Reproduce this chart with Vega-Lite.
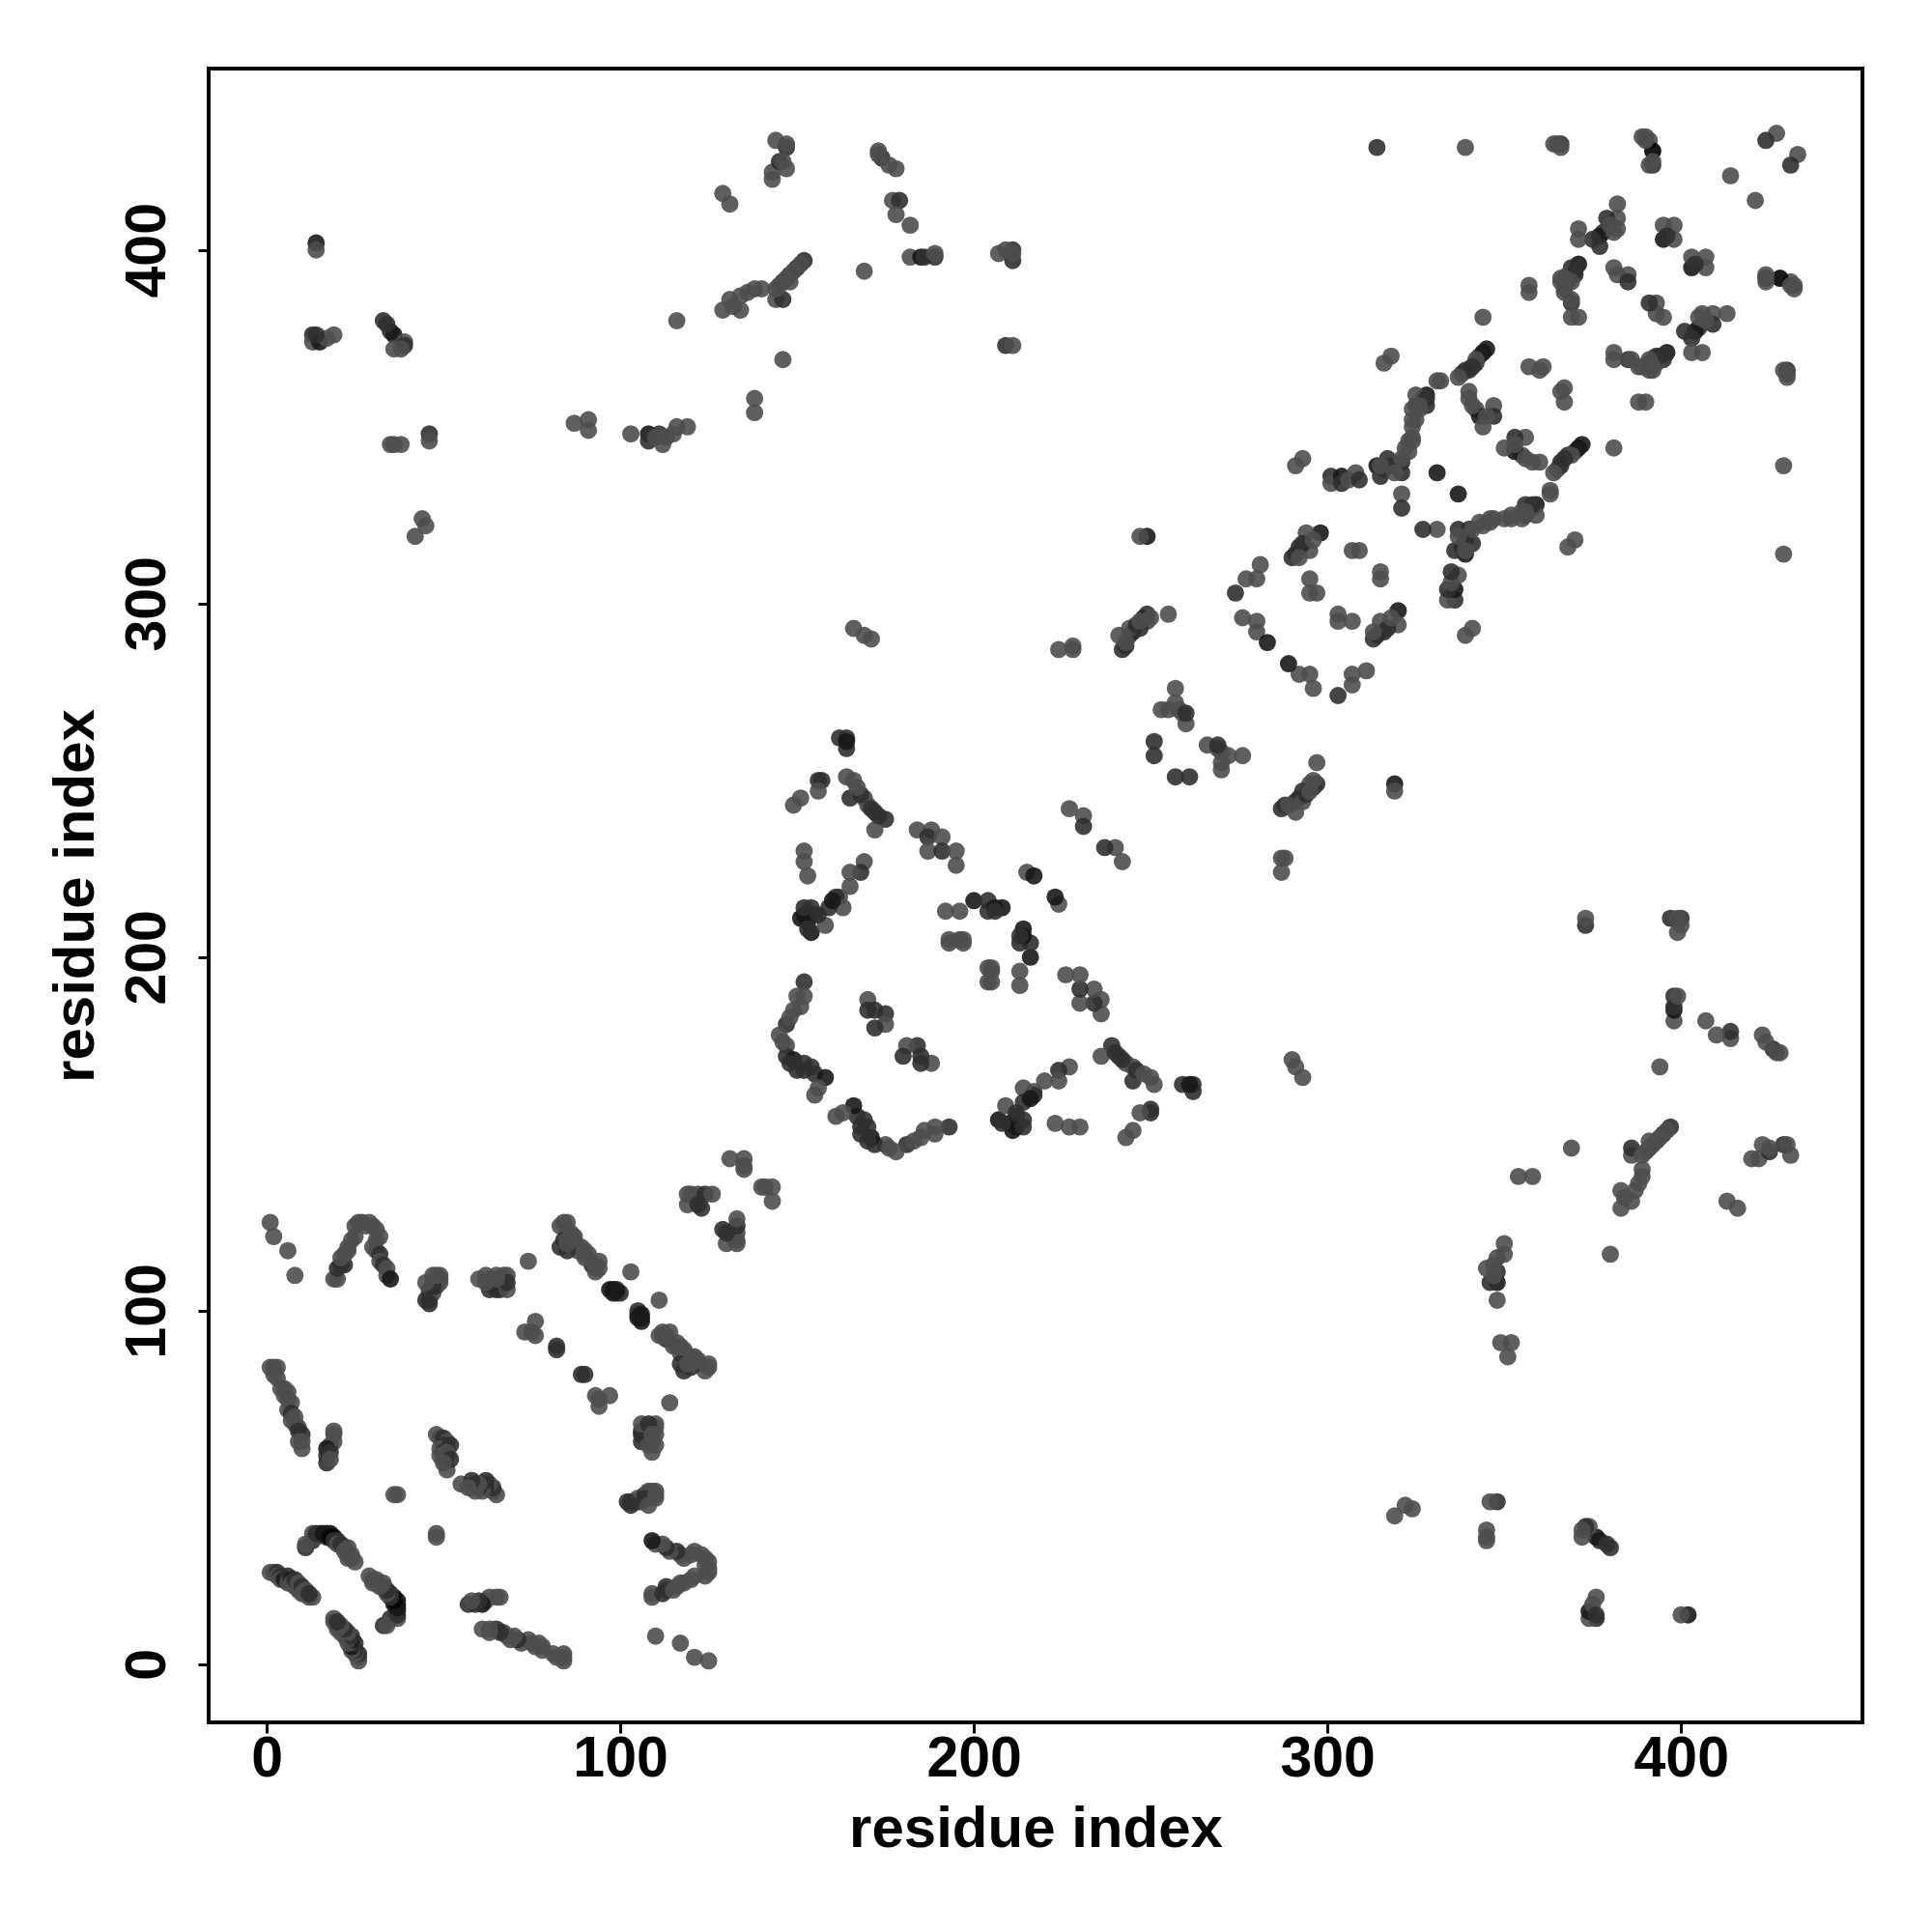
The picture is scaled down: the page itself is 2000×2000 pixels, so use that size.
{"$schema":"https://vega.github.io/schema/vega-lite/v6.json","width":1712,"height":1712,"autosize":{"type":"none"},"padding":{"left":216,"top":71,"right":72,"bottom":217},"background":"white","config":{"view":{"stroke":"black","strokeWidth":4},"font":"Liberation Sans"},"data":{"values":[
{"x":1,"y":26,"v":0.33},{"x":26,"y":1,"v":0.33},{"x":2,"y":26,"v":0.33},{"x":26,"y":2,"v":0.33},{"x":3,"y":26,"v":0.2},{"x":26,"y":3,"v":0.2},{"x":3,"y":25,"v":0.33},{"x":25,"y":3,"v":0.33},{"x":4,"y":25,"v":0.2},{"x":25,"y":4,"v":0.2},{"x":4,"y":24,"v":0.33},{"x":24,"y":4,"v":0.33},{"x":5,"y":24,"v":0.08},{"x":24,"y":5,"v":0.08},{"x":6,"y":25,"v":0.2},{"x":25,"y":6,"v":0.2},{"x":6,"y":23,"v":0.33},{"x":23,"y":6,"v":0.33},{"x":7,"y":24,"v":0.08},{"x":24,"y":7,"v":0.08},{"x":7,"y":23,"v":0.33},{"x":23,"y":7,"v":0.33},{"x":8,"y":22,"v":0.33},{"x":22,"y":8,"v":0.33},{"x":8,"y":24,"v":0.2},{"x":24,"y":8,"v":0.2},{"x":9,"y":23,"v":0.33},{"x":23,"y":9,"v":0.33},{"x":9,"y":21,"v":0.33},{"x":21,"y":9,"v":0.33},{"x":10,"y":22,"v":0.2},{"x":22,"y":10,"v":0.2},{"x":10,"y":20,"v":0.33},{"x":20,"y":10,"v":0.33},{"x":11,"y":21,"v":0.33},{"x":21,"y":11,"v":0.33},{"x":11,"y":20,"v":0.33},{"x":20,"y":11,"v":0.33},{"x":12,"y":19,"v":0.33},{"x":19,"y":12,"v":0.33},{"x":13,"y":19,"v":0.33},{"x":19,"y":13,"v":0.33},{"x":12,"y":20,"v":0.2},{"x":20,"y":12,"v":0.2},
{"x":11,"y":33,"v":0.2},{"x":33,"y":11,"v":0.2},{"x":13,"y":35,"v":0.2},{"x":35,"y":13,"v":0.2},{"x":13,"y":37,"v":0.33},{"x":37,"y":13,"v":0.33},{"x":11,"y":34,"v":0.33},{"x":34,"y":11,"v":0.33},{"x":14,"y":37,"v":0.2},{"x":37,"y":14,"v":0.2},{"x":15,"y":37,"v":0.2},{"x":37,"y":15,"v":0.2},{"x":16,"y":37,"v":0.08},{"x":37,"y":16,"v":0.08},{"x":17,"y":37,"v":0.08},{"x":37,"y":17,"v":0.08},{"x":18,"y":37,"v":0.08},{"x":37,"y":18,"v":0.08},{"x":17,"y":36,"v":0.08},{"x":36,"y":17,"v":0.08},{"x":18,"y":36,"v":0.02},{"x":36,"y":18,"v":0.02},{"x":19,"y":36,"v":0.02},{"x":36,"y":19,"v":0.02},{"x":19,"y":35,"v":0.2},{"x":35,"y":19,"v":0.2},{"x":20,"y":35,"v":0.2},{"x":35,"y":20,"v":0.2},{"x":20,"y":34,"v":0.33},{"x":34,"y":20,"v":0.33},{"x":21,"y":34,"v":0.2},{"x":34,"y":21,"v":0.2},{"x":22,"y":33,"v":0.2},{"x":33,"y":22,"v":0.2},{"x":23,"y":33,"v":0.33},{"x":33,"y":23,"v":0.33},{"x":22,"y":32,"v":0.33},{"x":32,"y":22,"v":0.33},{"x":23,"y":31,"v":0.33},{"x":31,"y":23,"v":0.33},{"x":24,"y":31,"v":0.33},{"x":31,"y":24,"v":0.33},{"x":24,"y":30,"v":0.33},{"x":30,"y":24,"v":0.33},{"x":25,"y":29,"v":0.33},{"x":29,"y":25,"v":0.33},{"x":23,"y":30,"v":0.33},{"x":30,"y":23,"v":0.33},
{"x":1,"y":84,"v":0.33},{"x":84,"y":1,"v":0.33},{"x":2,"y":84,"v":0.33},{"x":84,"y":2,"v":0.33},{"x":3,"y":84,"v":0.33},{"x":84,"y":3,"v":0.33},{"x":2,"y":82,"v":0.33},{"x":82,"y":2,"v":0.33},{"x":3,"y":81,"v":0.33},{"x":81,"y":3,"v":0.33},{"x":4,"y":78,"v":0.33},{"x":78,"y":4,"v":0.33},{"x":5,"y":78,"v":0.33},{"x":78,"y":5,"v":0.33},{"x":5,"y":76,"v":0.33},{"x":76,"y":5,"v":0.33},{"x":6,"y":77,"v":0.33},{"x":77,"y":6,"v":0.33},{"x":6,"y":75,"v":0.33},{"x":75,"y":6,"v":0.33},{"x":7,"y":74,"v":0.33},{"x":74,"y":7,"v":0.33},{"x":6,"y":72,"v":0.33},{"x":72,"y":6,"v":0.33},{"x":7,"y":71,"v":0.2},{"x":71,"y":7,"v":0.2},{"x":7,"y":69,"v":0.33},{"x":69,"y":7,"v":0.33},{"x":8,"y":68,"v":0.33},{"x":68,"y":8,"v":0.33},{"x":8,"y":70,"v":0.33},{"x":70,"y":8,"v":0.33},{"x":9,"y":67,"v":0.33},{"x":67,"y":9,"v":0.33},{"x":9,"y":66,"v":0.2},{"x":66,"y":9,"v":0.2},{"x":10,"y":65,"v":0.2},{"x":65,"y":10,"v":0.2},{"x":9,"y":63,"v":0.33},{"x":63,"y":9,"v":0.33},{"x":10,"y":63,"v":0.33},{"x":63,"y":10,"v":0.33},{"x":10,"y":61,"v":0.33},{"x":61,"y":10,"v":0.33},
{"x":19,"y":66,"v":0.33},{"x":66,"y":19,"v":0.33},{"x":19,"y":65,"v":0.33},{"x":65,"y":19,"v":0.33},{"x":19,"y":63,"v":0.33},{"x":63,"y":19,"v":0.33},{"x":18,"y":62,"v":0.33},{"x":62,"y":18,"v":0.33},{"x":17,"y":61,"v":0.08},{"x":61,"y":17,"v":0.08},{"x":18,"y":60,"v":0.2},{"x":60,"y":18,"v":0.2},{"x":17,"y":59,"v":0.2},{"x":59,"y":17,"v":0.2},{"x":17,"y":57,"v":0.2},{"x":57,"y":17,"v":0.2},{"x":18,"y":58,"v":0.33},{"x":58,"y":18,"v":0.33},
{"x":48,"y":65,"v":0.33},{"x":65,"y":48,"v":0.33},{"x":49,"y":64,"v":0.33},{"x":64,"y":49,"v":0.33},{"x":50,"y":64,"v":0.2},{"x":64,"y":50,"v":0.2},{"x":51,"y":63,"v":0.33},{"x":63,"y":51,"v":0.33},{"x":50,"y":62,"v":0.2},{"x":62,"y":50,"v":0.2},{"x":51,"y":61,"v":0.2},{"x":61,"y":51,"v":0.2},{"x":49,"y":61,"v":0.33},{"x":61,"y":49,"v":0.33},{"x":50,"y":60,"v":0.2},{"x":60,"y":50,"v":0.2},{"x":49,"y":59,"v":0.33},{"x":59,"y":49,"v":0.33},{"x":50,"y":58,"v":0.33},{"x":58,"y":50,"v":0.33},{"x":51,"y":59,"v":0.2},{"x":59,"y":51,"v":0.2},{"x":52,"y":62,"v":0.2},{"x":62,"y":52,"v":0.2},{"x":51,"y":60,"v":0.33},{"x":60,"y":51,"v":0.33},{"x":51,"y":55,"v":0.33},{"x":55,"y":51,"v":0.33},{"x":52,"y":58,"v":0.2},{"x":58,"y":52,"v":0.2},{"x":50,"y":57,"v":0.33},{"x":57,"y":50,"v":0.33},{"x":37,"y":48,"v":0.33},{"x":48,"y":37,"v":0.33},{"x":36,"y":48,"v":0.33},{"x":48,"y":36,"v":0.33},
{"x":19,"y":109,"v":0.33},{"x":109,"y":19,"v":0.33},{"x":20,"y":109,"v":0.33},{"x":109,"y":20,"v":0.33},{"x":20,"y":112,"v":0.2},{"x":112,"y":20,"v":0.2},{"x":21,"y":113,"v":0.2},{"x":113,"y":21,"v":0.2},{"x":22,"y":113,"v":0.2},{"x":113,"y":22,"v":0.2},{"x":21,"y":115,"v":0.33},{"x":115,"y":21,"v":0.33},{"x":22,"y":116,"v":0.33},{"x":116,"y":22,"v":0.33},{"x":23,"y":117,"v":0.33},{"x":117,"y":23,"v":0.33},{"x":23,"y":118,"v":0.33},{"x":118,"y":23,"v":0.33},{"x":24,"y":120,"v":0.33},{"x":120,"y":24,"v":0.33},{"x":25,"y":121,"v":0.33},{"x":121,"y":25,"v":0.33},{"x":26,"y":125,"v":0.33},{"x":125,"y":26,"v":0.33},{"x":25,"y":124,"v":0.33},{"x":124,"y":25,"v":0.33},{"x":27,"y":125,"v":0.33},{"x":125,"y":27,"v":0.33},{"x":28,"y":124,"v":0.33},{"x":124,"y":28,"v":0.33},{"x":29,"y":125,"v":0.33},{"x":125,"y":29,"v":0.33},{"x":30,"y":124,"v":0.33},{"x":124,"y":30,"v":0.33},{"x":31,"y":123,"v":0.33},{"x":123,"y":31,"v":0.33},{"x":31,"y":120,"v":0.33},{"x":120,"y":31,"v":0.33},{"x":32,"y":121,"v":0.33},{"x":121,"y":32,"v":0.33},{"x":30,"y":118,"v":0.33},{"x":118,"y":30,"v":0.33},{"x":31,"y":117,"v":0.33},{"x":117,"y":31,"v":0.33},{"x":32,"y":116,"v":0.2},{"x":116,"y":32,"v":0.2},{"x":32,"y":114,"v":0.33},{"x":114,"y":32,"v":0.33},{"x":33,"y":113,"v":0.2},{"x":113,"y":33,"v":0.2},{"x":34,"y":112,"v":0.33},{"x":112,"y":34,"v":0.33},{"x":34,"y":110,"v":0.33},{"x":110,"y":34,"v":0.33},{"x":35,"y":109,"v":0.08},{"x":109,"y":35,"v":0.08},
{"x":46,"y":103,"v":0.2},{"x":103,"y":46,"v":0.2},{"x":46,"y":105,"v":0.2},{"x":105,"y":46,"v":0.2},{"x":47,"y":105,"v":0.33},{"x":105,"y":47,"v":0.33},{"x":46,"y":106,"v":0.33},{"x":106,"y":46,"v":0.33},{"x":48,"y":107,"v":0.2},{"x":107,"y":48,"v":0.2},{"x":49,"y":108,"v":0.33},{"x":108,"y":49,"v":0.33},{"x":49,"y":109,"v":0.33},{"x":109,"y":49,"v":0.33},{"x":49,"y":110,"v":0.33},{"x":110,"y":49,"v":0.33},{"x":47,"y":108,"v":0.33},{"x":108,"y":47,"v":0.33},{"x":47,"y":107,"v":0.2},{"x":107,"y":47,"v":0.2},{"x":45,"y":103,"v":0.2},{"x":103,"y":45,"v":0.2},{"x":46,"y":102,"v":0.2},{"x":102,"y":46,"v":0.2},{"x":47,"y":110,"v":0.33},{"x":110,"y":47,"v":0.33},{"x":48,"y":110,"v":0.33},{"x":110,"y":48,"v":0.33},{"x":45,"y":108,"v":0.33},{"x":108,"y":45,"v":0.33},
{"x":60,"y":109,"v":0.33},{"x":109,"y":60,"v":0.33},{"x":62,"y":110,"v":0.33},{"x":110,"y":62,"v":0.33},{"x":63,"y":109,"v":0.33},{"x":109,"y":63,"v":0.33},{"x":64,"y":107,"v":0.33},{"x":107,"y":64,"v":0.33},{"x":63,"y":106,"v":0.2},{"x":106,"y":63,"v":0.2},{"x":65,"y":106,"v":0.2},{"x":106,"y":65,"v":0.2},{"x":66,"y":107,"v":0.2},{"x":107,"y":66,"v":0.2},{"x":67,"y":110,"v":0.33},{"x":110,"y":67,"v":0.33},{"x":66,"y":109,"v":0.33},{"x":109,"y":66,"v":0.33},{"x":68,"y":110,"v":0.33},{"x":110,"y":68,"v":0.33},{"x":66,"y":106,"v":0.2},{"x":106,"y":66,"v":0.2},{"x":68,"y":106,"v":0.33},{"x":106,"y":68,"v":0.33},{"x":68,"y":108,"v":0.2},{"x":108,"y":68,"v":0.2},{"x":65,"y":109,"v":0.33},{"x":109,"y":65,"v":0.33},{"x":65,"y":110,"v":0.33},{"x":110,"y":65,"v":0.33},{"x":62,"y":108,"v":0.33},{"x":108,"y":62,"v":0.33},
{"x":84,"y":125,"v":0.33},{"x":125,"y":84,"v":0.33},{"x":83,"y":124,"v":0.33},{"x":124,"y":83,"v":0.33},{"x":85,"y":125,"v":0.33},{"x":125,"y":85,"v":0.33},{"x":85,"y":122,"v":0.33},{"x":122,"y":85,"v":0.33},{"x":84,"y":120,"v":0.2},{"x":120,"y":84,"v":0.2},{"x":83,"y":118,"v":0.2},{"x":118,"y":83,"v":0.2},{"x":85,"y":120,"v":0.33},{"x":120,"y":85,"v":0.33},{"x":86,"y":119,"v":0.33},{"x":119,"y":86,"v":0.33},{"x":87,"y":121,"v":0.33},{"x":121,"y":87,"v":0.33},{"x":88,"y":117,"v":0.33},{"x":117,"y":88,"v":0.33},{"x":89,"y":118,"v":0.33},{"x":118,"y":89,"v":0.33},{"x":90,"y":116,"v":0.33},{"x":116,"y":90,"v":0.33},{"x":91,"y":116,"v":0.33},{"x":116,"y":91,"v":0.33},{"x":92,"y":113,"v":0.2},{"x":113,"y":92,"v":0.2},{"x":93,"y":112,"v":0.33},{"x":112,"y":93,"v":0.33},{"x":94,"y":112,"v":0.33},{"x":112,"y":94,"v":0.33},{"x":94,"y":114,"v":0.33},{"x":114,"y":94,"v":0.33},{"x":97,"y":106,"v":0.08},{"x":106,"y":97,"v":0.08},{"x":98,"y":106,"v":0.08},{"x":106,"y":98,"v":0.08},{"x":99,"y":105,"v":0.2},{"x":105,"y":99,"v":0.2},{"x":100,"y":105,"v":0.2},{"x":105,"y":100,"v":0.2},{"x":99,"y":106,"v":0.08},{"x":106,"y":99,"v":0.08},{"x":98,"y":105,"v":0.08},{"x":105,"y":98,"v":0.08},{"x":93,"y":111,"v":0.33},{"x":111,"y":93,"v":0.33},{"x":93,"y":113,"v":0.33},{"x":113,"y":93,"v":0.33},{"x":90,"y":115,"v":0.33},{"x":115,"y":90,"v":0.33},{"x":90,"y":117,"v":0.33},{"x":117,"y":90,"v":0.33},{"x":88,"y":118,"v":0.33},{"x":118,"y":88,"v":0.33},{"x":87,"y":120,"v":0.33},{"x":120,"y":87,"v":0.33},{"x":85,"y":117,"v":0.2},{"x":117,"y":85,"v":0.2},{"x":85,"y":119,"v":0.33},{"x":119,"y":85,"v":0.33},{"x":86,"y":122,"v":0.33},{"x":122,"y":86,"v":0.33},
{"x":103,"y":111,"v":0.33},{"x":111,"y":103,"v":0.33},{"x":74,"y":114,"v":0.33},{"x":114,"y":74,"v":0.33},{"x":73,"y":94,"v":0.33},{"x":94,"y":73,"v":0.33},{"x":76,"y":97,"v":0.33},{"x":97,"y":76,"v":0.33},{"x":76,"y":93,"v":0.33},{"x":93,"y":76,"v":0.33},{"x":75,"y":94,"v":0.33},{"x":94,"y":75,"v":0.33},{"x":82,"y":90,"v":0.2},{"x":90,"y":82,"v":0.2},{"x":82,"y":89,"v":0.2},{"x":89,"y":82,"v":0.2},{"x":1,"y":125,"v":0.33},{"x":125,"y":1,"v":0.33},{"x":2,"y":121,"v":0.33},{"x":121,"y":2,"v":0.33},{"x":6,"y":117,"v":0.33},{"x":117,"y":6,"v":0.33},{"x":8,"y":110,"v":0.33},{"x":110,"y":8,"v":0.33},
{"x":119,"y":133,"v":0.33},{"x":133,"y":119,"v":0.33},{"x":119,"y":130,"v":0.33},{"x":130,"y":119,"v":0.33},{"x":120,"y":133,"v":0.33},{"x":133,"y":120,"v":0.33},{"x":121,"y":132,"v":0.33},{"x":132,"y":121,"v":0.33},{"x":122,"y":133,"v":0.33},{"x":133,"y":122,"v":0.33},{"x":123,"y":129,"v":0.2},{"x":129,"y":123,"v":0.2},{"x":122,"y":130,"v":0.2},{"x":130,"y":122,"v":0.2},{"x":124,"y":133,"v":0.2},{"x":133,"y":124,"v":0.2},{"x":126,"y":133,"v":0.33},{"x":133,"y":126,"v":0.33},{"x":131,"y":143,"v":0.33},{"x":143,"y":131,"v":0.33},{"x":135,"y":143,"v":0.33},{"x":143,"y":135,"v":0.33},{"x":135,"y":140,"v":0.33},{"x":140,"y":135,"v":0.33},{"x":135,"y":141,"v":0.33},{"x":141,"y":135,"v":0.33},
{"x":162,"y":262,"v":0.2},{"x":262,"y":162,"v":0.2},{"x":164,"y":262,"v":0.2},{"x":262,"y":164,"v":0.2},{"x":164,"y":259,"v":0.2},{"x":259,"y":164,"v":0.2},{"x":164,"y":261,"v":0.08},{"x":261,"y":164,"v":0.08},{"x":156,"y":250,"v":0.2},{"x":250,"y":156,"v":0.2},{"x":157,"y":250,"v":0.2},{"x":250,"y":157,"v":0.2},{"x":156,"y":247,"v":0.33},{"x":247,"y":156,"v":0.33},{"x":151,"y":245,"v":0.33},{"x":245,"y":151,"v":0.33},{"x":149,"y":243,"v":0.33},{"x":243,"y":149,"v":0.33},{"x":164,"y":251,"v":0.33},{"x":251,"y":164,"v":0.33},{"x":166,"y":250,"v":0.33},{"x":250,"y":166,"v":0.33},{"x":165,"y":245,"v":0.2},{"x":245,"y":165,"v":0.2},{"x":169,"y":245,"v":0.33},{"x":245,"y":169,"v":0.33},{"x":170,"y":243,"v":0.33},{"x":243,"y":170,"v":0.33},{"x":172,"y":241,"v":0.2},{"x":241,"y":172,"v":0.2},{"x":175,"y":239,"v":0.2},{"x":239,"y":175,"v":0.2},{"x":172,"y":236,"v":0.33},{"x":236,"y":172,"v":0.33},{"x":168,"y":246,"v":0.2},{"x":246,"y":168,"v":0.2},{"x":167,"y":248,"v":0.33},{"x":248,"y":167,"v":0.33},{"x":171,"y":242,"v":0.2},{"x":242,"y":171,"v":0.2},{"x":173,"y":240,"v":0.2},{"x":240,"y":173,"v":0.2},
{"x":184,"y":236,"v":0.33},{"x":236,"y":184,"v":0.33},{"x":188,"y":236,"v":0.33},{"x":236,"y":188,"v":0.33},{"x":187,"y":234,"v":0.2},{"x":234,"y":187,"v":0.2},{"x":191,"y":234,"v":0.33},{"x":234,"y":191,"v":0.33},{"x":187,"y":230,"v":0.33},{"x":230,"y":187,"v":0.33},{"x":191,"y":230,"v":0.2},{"x":230,"y":191,"v":0.2},{"x":195,"y":230,"v":0.33},{"x":230,"y":195,"v":0.33},{"x":195,"y":226,"v":0.33},{"x":226,"y":195,"v":0.33},{"x":152,"y":230,"v":0.33},{"x":230,"y":152,"v":0.33},{"x":152,"y":227,"v":0.33},{"x":227,"y":152,"v":0.33},{"x":153,"y":223,"v":0.33},{"x":223,"y":153,"v":0.33},
{"x":169,"y":227,"v":0.33},{"x":227,"y":169,"v":0.33},{"x":168,"y":224,"v":0.2},{"x":224,"y":168,"v":0.2},{"x":165,"y":224,"v":0.33},{"x":224,"y":165,"v":0.33},{"x":165,"y":220,"v":0.33},{"x":220,"y":165,"v":0.33},{"x":162,"y":217,"v":0.33},{"x":217,"y":162,"v":0.33},{"x":161,"y":217,"v":0.2},{"x":217,"y":161,"v":0.2},{"x":163,"y":214,"v":0.33},{"x":214,"y":163,"v":0.33},{"x":159,"y":214,"v":0.2},{"x":214,"y":159,"v":0.2},{"x":160,"y":216,"v":0.08},{"x":216,"y":160,"v":0.08},{"x":152,"y":212,"v":0.08},{"x":212,"y":152,"v":0.08},{"x":154,"y":214,"v":0.2},{"x":214,"y":154,"v":0.2},{"x":155,"y":212,"v":0.2},{"x":212,"y":155,"v":0.2},{"x":153,"y":210,"v":0.08},{"x":210,"y":153,"v":0.08},{"x":154,"y":207,"v":0.08},{"x":207,"y":154,"v":0.08},{"x":158,"y":209,"v":0.33},{"x":209,"y":158,"v":0.33},{"x":151,"y":211,"v":0.08},{"x":211,"y":151,"v":0.08},{"x":152,"y":214,"v":0.2},{"x":214,"y":152,"v":0.2},{"x":153,"y":208,"v":0.2},{"x":208,"y":153,"v":0.2},{"x":156,"y":212,"v":0.2},{"x":212,"y":156,"v":0.2},
{"x":215,"y":224,"v":0.33},{"x":224,"y":215,"v":0.33},{"x":217,"y":223,"v":0.08},{"x":223,"y":217,"v":0.08},{"x":192,"y":213,"v":0.33},{"x":213,"y":192,"v":0.33},{"x":196,"y":213,"v":0.33},{"x":213,"y":196,"v":0.33},{"x":200,"y":216,"v":0.08},{"x":216,"y":200,"v":0.08},{"x":204,"y":216,"v":0.2},{"x":216,"y":204,"v":0.2},{"x":204,"y":213,"v":0.2},{"x":213,"y":204,"v":0.2},{"x":206,"y":214,"v":0.08},{"x":214,"y":206,"v":0.08},{"x":208,"y":214,"v":0.08},{"x":214,"y":208,"v":0.08},{"x":206,"y":213,"v":0.2},{"x":213,"y":206,"v":0.2},{"x":193,"y":205,"v":0.33},{"x":205,"y":193,"v":0.33},{"x":197,"y":205,"v":0.33},{"x":205,"y":197,"v":0.33},{"x":196,"y":205,"v":0.33},{"x":205,"y":196,"v":0.33},{"x":197,"y":204,"v":0.33},{"x":204,"y":197,"v":0.33},{"x":193,"y":204,"v":0.33},{"x":204,"y":193,"v":0.33},
{"x":152,"y":193,"v":0.2},{"x":193,"y":152,"v":0.2},{"x":152,"y":189,"v":0.33},{"x":189,"y":152,"v":0.33},{"x":150,"y":189,"v":0.33},{"x":189,"y":150,"v":0.33},{"x":149,"y":185,"v":0.33},{"x":185,"y":149,"v":0.33},{"x":147,"y":181,"v":0.2},{"x":181,"y":147,"v":0.2},{"x":145,"y":178,"v":0.33},{"x":178,"y":145,"v":0.33},{"x":147,"y":175,"v":0.33},{"x":175,"y":147,"v":0.33},{"x":147,"y":172,"v":0.2},{"x":172,"y":147,"v":0.2},{"x":149,"y":171,"v":0.08},{"x":171,"y":149,"v":0.08},{"x":152,"y":170,"v":0.2},{"x":170,"y":152,"v":0.2},{"x":155,"y":167,"v":0.2},{"x":167,"y":155,"v":0.2},{"x":158,"y":166,"v":0.08},{"x":166,"y":158,"v":0.08},{"x":156,"y":163,"v":0.33},{"x":163,"y":156,"v":0.33},{"x":155,"y":161,"v":0.33},{"x":161,"y":155,"v":0.33},{"x":150,"y":168,"v":0.2},{"x":168,"y":150,"v":0.2},{"x":148,"y":170,"v":0.2},{"x":170,"y":148,"v":0.2},{"x":146,"y":176,"v":0.33},{"x":176,"y":146,"v":0.33},{"x":148,"y":183,"v":0.33},{"x":183,"y":148,"v":0.33},{"x":151,"y":186,"v":0.33},{"x":186,"y":151,"v":0.33},{"x":154,"y":169,"v":0.2},{"x":169,"y":154,"v":0.2},{"x":152,"y":168,"v":0.2},{"x":168,"y":152,"v":0.2},
{"x":170,"y":188,"v":0.33},{"x":188,"y":170,"v":0.33},{"x":170,"y":185,"v":0.2},{"x":185,"y":170,"v":0.2},{"x":172,"y":185,"v":0.2},{"x":185,"y":172,"v":0.2},{"x":175,"y":184,"v":0.2},{"x":184,"y":175,"v":0.2},{"x":175,"y":181,"v":0.33},{"x":181,"y":175,"v":0.33},{"x":172,"y":180,"v":0.2},{"x":180,"y":172,"v":0.2},
{"x":253,"y":270,"v":0.33},{"x":270,"y":253,"v":0.33},{"x":257,"y":276,"v":0.33},{"x":276,"y":257,"v":0.33},{"x":257,"y":272,"v":0.33},{"x":272,"y":257,"v":0.33},{"x":259,"y":269,"v":0.33},{"x":269,"y":259,"v":0.33},{"x":260,"y":266,"v":0.33},{"x":266,"y":260,"v":0.33},{"x":255,"y":270,"v":0.33},{"x":270,"y":255,"v":0.33},{"x":258,"y":270,"v":0.33},{"x":270,"y":258,"v":0.33},{"x":260,"y":269,"v":0.2},{"x":269,"y":260,"v":0.2},{"x":251,"y":261,"v":0.2},{"x":261,"y":251,"v":0.2},{"x":251,"y":257,"v":0.2},{"x":257,"y":251,"v":0.2},
{"x":255,"y":297,"v":0.33},{"x":297,"y":255,"v":0.33},{"x":249,"y":297,"v":0.2},{"x":297,"y":249,"v":0.2},{"x":249,"y":295,"v":0.33},{"x":295,"y":249,"v":0.33},{"x":247,"y":293,"v":0.2},{"x":293,"y":247,"v":0.2},{"x":244,"y":291,"v":0.2},{"x":291,"y":244,"v":0.2},{"x":243,"y":288,"v":0.2},{"x":288,"y":243,"v":0.2},{"x":242,"y":287,"v":0.2},{"x":287,"y":242,"v":0.2},{"x":241,"y":291,"v":0.33},{"x":291,"y":241,"v":0.33},{"x":245,"y":292,"v":0.2},{"x":292,"y":245,"v":0.2},{"x":243,"y":289,"v":0.33},{"x":289,"y":243,"v":0.33},{"x":244,"y":293,"v":0.33},{"x":293,"y":244,"v":0.33},{"x":246,"y":294,"v":0.2},{"x":294,"y":246,"v":0.2},{"x":248,"y":296,"v":0.2},{"x":296,"y":248,"v":0.2},{"x":247,"y":295,"v":0.33},{"x":295,"y":247,"v":0.33},{"x":250,"y":296,"v":0.33},{"x":296,"y":250,"v":0.33},{"x":249,"y":319,"v":0.08},{"x":319,"y":249,"v":0.08},{"x":247,"y":319,"v":0.33},{"x":319,"y":247,"v":0.33},
{"x":227,"y":242,"v":0.33},{"x":242,"y":227,"v":0.33},{"x":231,"y":240,"v":0.33},{"x":240,"y":231,"v":0.33},{"x":231,"y":237,"v":0.2},{"x":237,"y":231,"v":0.2},{"x":224,"y":287,"v":0.33},{"x":287,"y":224,"v":0.33},{"x":228,"y":288,"v":0.33},{"x":288,"y":228,"v":0.33},{"x":228,"y":287,"v":0.33},{"x":287,"y":228,"v":0.33},{"x":166,"y":293,"v":0.33},{"x":293,"y":166,"v":0.33},{"x":169,"y":291,"v":0.33},{"x":291,"y":169,"v":0.33},{"x":171,"y":290,"v":0.33},{"x":290,"y":171,"v":0.33},
{"x":293,"y":341,"v":0.33},{"x":341,"y":293,"v":0.33},{"x":291,"y":339,"v":0.33},{"x":339,"y":291,"v":0.33},{"x":301,"y":336,"v":0.2},{"x":336,"y":301,"v":0.2},{"x":301,"y":334,"v":0.33},{"x":334,"y":301,"v":0.33},{"x":304,"y":336,"v":0.08},{"x":336,"y":304,"v":0.08},{"x":304,"y":334,"v":0.2},{"x":334,"y":304,"v":0.2},{"x":306,"y":335,"v":0.33},{"x":335,"y":306,"v":0.33},{"x":308,"y":337,"v":0.33},{"x":337,"y":308,"v":0.33},{"x":309,"y":335,"v":0.2},{"x":335,"y":309,"v":0.2},{"x":314,"y":339,"v":0.08},{"x":339,"y":314,"v":0.08},{"x":315,"y":336,"v":0.2},{"x":336,"y":315,"v":0.2},{"x":317,"y":341,"v":0.2},{"x":341,"y":317,"v":0.2},{"x":321,"y":340,"v":0.2},{"x":340,"y":321,"v":0.2},{"x":321,"y":337,"v":0.2},{"x":337,"y":321,"v":0.2},{"x":323,"y":343,"v":0.33},{"x":343,"y":323,"v":0.33},{"x":324,"y":347,"v":0.33},{"x":347,"y":324,"v":0.33},{"x":323,"y":346,"v":0.33},{"x":346,"y":323,"v":0.33},{"x":316,"y":338,"v":0.2},{"x":338,"y":316,"v":0.2},{"x":318,"y":339,"v":0.2},{"x":339,"y":318,"v":0.2},{"x":319,"y":337,"v":0.33},{"x":337,"y":319,"v":0.33},{"x":331,"y":337,"v":0.08},{"x":337,"y":331,"v":0.08},{"x":321,"y":331,"v":0.33},{"x":331,"y":321,"v":0.33},{"x":321,"y":327,"v":0.2},{"x":327,"y":321,"v":0.2},{"x":321,"y":341,"v":0.33},{"x":341,"y":321,"v":0.33},{"x":324,"y":346,"v":0.33},{"x":346,"y":324,"v":0.33},{"x":325,"y":352,"v":0.33},{"x":352,"y":325,"v":0.33},{"x":325,"y":356,"v":0.2},{"x":356,"y":325,"v":0.2},{"x":328,"y":356,"v":0.2},{"x":356,"y":328,"v":0.2},{"x":328,"y":359,"v":0.08},{"x":359,"y":328,"v":0.08},{"x":332,"y":363,"v":0.33},{"x":363,"y":332,"v":0.33},{"x":322,"y":344,"v":0.33},{"x":344,"y":322,"v":0.33},{"x":326,"y":355,"v":0.33},{"x":355,"y":326,"v":0.33},{"x":327,"y":358,"v":0.33},{"x":358,"y":327,"v":0.33},{"x":324,"y":350,"v":0.33},{"x":350,"y":324,"v":0.33},{"x":315,"y":339,"v":0.33},{"x":339,"y":315,"v":0.33},
{"x":318,"y":370,"v":0.33},{"x":370,"y":318,"v":0.33},{"x":316,"y":368,"v":0.33},{"x":368,"y":316,"v":0.33},{"x":344,"y":381,"v":0.33},{"x":381,"y":344,"v":0.33},{"x":345,"y":372,"v":0.08},{"x":372,"y":345,"v":0.08},{"x":343,"y":370,"v":0.33},{"x":370,"y":343,"v":0.33},{"x":342,"y":368,"v":0.2},{"x":368,"y":342,"v":0.2},{"x":340,"y":366,"v":0.2},{"x":366,"y":340,"v":0.2},{"x":338,"y":365,"v":0.33},{"x":365,"y":338,"v":0.33},{"x":344,"y":371,"v":0.08},{"x":371,"y":344,"v":0.08},{"x":342,"y":369,"v":0.33},{"x":369,"y":342,"v":0.33},{"x":341,"y":367,"v":0.2},{"x":367,"y":341,"v":0.2},{"x":339,"y":366,"v":0.2},{"x":366,"y":339,"v":0.2},{"x":337,"y":364,"v":0.33},{"x":364,"y":337,"v":0.33},{"x":340,"y":358,"v":0.33},{"x":358,"y":340,"v":0.33},{"x":342,"y":355,"v":0.33},{"x":355,"y":342,"v":0.33},{"x":347,"y":356,"v":0.33},{"x":356,"y":347,"v":0.33},{"x":347,"y":353,"v":0.2},{"x":353,"y":347,"v":0.2},{"x":343,"y":353,"v":0.08},{"x":353,"y":343,"v":0.08},{"x":345,"y":353,"v":0.33},{"x":353,"y":345,"v":0.33},{"x":344,"y":350,"v":0.33},{"x":350,"y":344,"v":0.33},{"x":340,"y":360,"v":0.33},{"x":360,"y":340,"v":0.33},{"x":341,"y":356,"v":0.33},{"x":356,"y":341,"v":0.33},
{"x":298,"y":320,"v":0.08},{"x":320,"y":298,"v":0.08},{"x":294,"y":320,"v":0.33},{"x":320,"y":294,"v":0.33},{"x":295,"y":315,"v":0.33},{"x":315,"y":295,"v":0.33},{"x":292,"y":316,"v":0.2},{"x":316,"y":292,"v":0.2},{"x":290,"y":313,"v":0.2},{"x":313,"y":290,"v":0.2},{"x":291,"y":314,"v":0.2},{"x":314,"y":291,"v":0.2},{"x":293,"y":317,"v":0.2},{"x":317,"y":293,"v":0.2},{"x":296,"y":318,"v":0.33},{"x":318,"y":296,"v":0.33},{"x":292,"y":313,"v":0.33},{"x":313,"y":292,"v":0.33},{"x":307,"y":315,"v":0.33},{"x":315,"y":307,"v":0.33},{"x":309,"y":315,"v":0.33},{"x":315,"y":309,"v":0.33},{"x":281,"y":311,"v":0.33},{"x":311,"y":281,"v":0.33},{"x":280,"y":307,"v":0.33},{"x":307,"y":280,"v":0.33},{"x":277,"y":307,"v":0.33},{"x":307,"y":277,"v":0.33},{"x":274,"y":303,"v":0.2},{"x":303,"y":274,"v":0.2},{"x":295,"y":307,"v":0.33},{"x":307,"y":295,"v":0.33},{"x":295,"y":303,"v":0.33},{"x":303,"y":295,"v":0.33},{"x":297,"y":303,"v":0.33},{"x":303,"y":297,"v":0.33},{"x":276,"y":296,"v":0.33},{"x":296,"y":276,"v":0.33},{"x":280,"y":295,"v":0.33},{"x":295,"y":280,"v":0.33},{"x":280,"y":292,"v":0.33},{"x":292,"y":280,"v":0.33},{"x":283,"y":289,"v":0.08},{"x":289,"y":283,"v":0.08},
{"x":364,"y":430,"v":0.33},{"x":430,"y":364,"v":0.33},{"x":366,"y":430,"v":0.2},{"x":430,"y":366,"v":0.2},{"x":366,"y":429,"v":0.33},{"x":429,"y":366,"v":0.33},{"x":389,"y":432,"v":0.33},{"x":432,"y":389,"v":0.33},{"x":391,"y":431,"v":0.33},{"x":431,"y":391,"v":0.33},{"x":392,"y":428,"v":0},{"x":428,"y":392,"v":0},{"x":392,"y":424,"v":0.2},{"x":424,"y":392,"v":0.2},{"x":391,"y":424,"v":0.33},{"x":424,"y":391,"v":0.33},{"x":427,"y":433,"v":0.33},{"x":433,"y":427,"v":0.33},{"x":424,"y":431,"v":0.2},{"x":431,"y":424,"v":0.2},{"x":414,"y":421,"v":0.33},{"x":421,"y":414,"v":0.33},
{"x":382,"y":413,"v":0.33},{"x":413,"y":382,"v":0.33},{"x":382,"y":409,"v":0.33},{"x":409,"y":382,"v":0.33},{"x":379,"y":409,"v":0.2},{"x":409,"y":379,"v":0.2},{"x":382,"y":406,"v":0.33},{"x":406,"y":382,"v":0.33},{"x":378,"y":405,"v":0.2},{"x":405,"y":378,"v":0.2},{"x":377,"y":404,"v":0.08},{"x":404,"y":377,"v":0.08},{"x":375,"y":403,"v":0.2},{"x":403,"y":375,"v":0.2},{"x":377,"y":401,"v":0.2},{"x":401,"y":377,"v":0.2},{"x":371,"y":406,"v":0.33},{"x":406,"y":371,"v":0.33},{"x":371,"y":403,"v":0.33},{"x":403,"y":371,"v":0.33},{"x":380,"y":407,"v":0.33},{"x":407,"y":380,"v":0.33},{"x":381,"y":405,"v":0.33},{"x":405,"y":381,"v":0.33},
{"x":395,"y":407,"v":0.33},{"x":407,"y":395,"v":0.33},{"x":398,"y":407,"v":0.33},{"x":407,"y":398,"v":0.33},{"x":395,"y":403,"v":0.08},{"x":403,"y":395,"v":0.08},{"x":398,"y":403,"v":0.33},{"x":403,"y":398,"v":0.33},{"x":396,"y":404,"v":0.2},{"x":404,"y":396,"v":0.2},{"x":371,"y":396,"v":0.08},{"x":396,"y":371,"v":0.08},{"x":369,"y":395,"v":0.2},{"x":395,"y":369,"v":0.2},{"x":367,"y":391,"v":0.33},{"x":391,"y":367,"v":0.33},{"x":368,"y":391,"v":0.2},{"x":391,"y":368,"v":0.2},{"x":367,"y":389,"v":0.33},{"x":389,"y":367,"v":0.33},{"x":369,"y":385,"v":0.2},{"x":385,"y":369,"v":0.2},{"x":369,"y":381,"v":0.33},{"x":381,"y":369,"v":0.33},{"x":371,"y":381,"v":0.33},{"x":381,"y":371,"v":0.33},{"x":366,"y":392,"v":0.33},{"x":392,"y":366,"v":0.33},{"x":370,"y":393,"v":0.2},{"x":393,"y":370,"v":0.2},{"x":357,"y":390,"v":0.33},{"x":390,"y":357,"v":0.33},{"x":357,"y":388,"v":0.33},{"x":388,"y":357,"v":0.33},
{"x":381,"y":395,"v":0.33},{"x":395,"y":381,"v":0.33},{"x":382,"y":393,"v":0.33},{"x":393,"y":382,"v":0.33},{"x":385,"y":393,"v":0.33},{"x":393,"y":385,"v":0.33},{"x":385,"y":391,"v":0.2},{"x":391,"y":385,"v":0.2},{"x":424,"y":393,"v":0.33},{"x":392,"y":425,"v":0.33},{"x":431,"y":390,"v":0.33},{"x":390,"y":431,"v":0.33},{"x":432,"y":390,"v":0.33},{"x":390,"y":432,"v":0.33},{"x":369,"y":386,"v":0.33},{"x":386,"y":369,"v":0.33},{"x":367,"y":388,"v":0.33},{"x":388,"y":367,"v":0.33},{"x":366,"y":391,"v":0.33},{"x":391,"y":366,"v":0.33},{"x":368,"y":393,"v":0.33},{"x":393,"y":368,"v":0.33},{"x":370,"y":394,"v":0.2},{"x":394,"y":370,"v":0.2},{"x":369,"y":391,"v":0.33},{"x":391,"y":369,"v":0.33},{"x":367,"y":392,"v":0.33},{"x":392,"y":367,"v":0.33},
{"x":357,"y":367,"v":0.33},{"x":367,"y":357,"v":0.33},{"x":361,"y":367,"v":0.33},{"x":367,"y":361,"v":0.33},{"x":360,"y":366,"v":0.33},{"x":366,"y":360,"v":0.33},{"x":430,"y":365,"v":0.33},{"x":365,"y":430,"v":0.33},{"x":429,"y":339,"v":0.33},{"x":339,"y":429,"v":0.33},{"x":429,"y":314,"v":0.33},{"x":314,"y":429,"v":0.2},
{"x":325,"y":359,"v":0.33},{"x":359,"y":325,"v":0.33},{"x":324,"y":355,"v":0.33},{"x":355,"y":324,"v":0.33},{"x":324,"y":352,"v":0.33},{"x":352,"y":324,"v":0.33},{"x":331,"y":363,"v":0.33},{"x":363,"y":331,"v":0.33},{"x":328,"y":358,"v":0.2},{"x":358,"y":328,"v":0.2},{"x":326,"y":356,"v":0.33},{"x":356,"y":326,"v":0.33},
{"x":14,"y":402,"v":0.08},{"x":402,"y":14,"v":0.08},{"x":14,"y":400,"v":0.33},{"x":400,"y":14,"v":0.33},{"x":13,"y":376,"v":0.2},{"x":376,"y":13,"v":0.2},{"x":13,"y":374,"v":0.33},{"x":374,"y":13,"v":0.33},{"x":15,"y":374,"v":0.08},{"x":374,"y":15,"v":0.08},{"x":17,"y":375,"v":0.33},{"x":375,"y":17,"v":0.33},{"x":19,"y":376,"v":0.33},{"x":376,"y":19,"v":0.33},{"x":14,"y":376,"v":0.2},{"x":376,"y":14,"v":0.2},{"x":33,"y":380,"v":0.2},{"x":380,"y":33,"v":0.2},{"x":35,"y":377,"v":0.2},{"x":377,"y":35,"v":0.2},{"x":36,"y":376,"v":0.08},{"x":376,"y":36,"v":0.08},{"x":36,"y":372,"v":0.33},{"x":372,"y":36,"v":0.33},{"x":39,"y":374,"v":0.33},{"x":374,"y":39,"v":0.33},{"x":39,"y":373,"v":0.2},{"x":373,"y":39,"v":0.2},{"x":38,"y":372,"v":0.33},{"x":372,"y":38,"v":0.33},{"x":34,"y":379,"v":0.2},{"x":379,"y":34,"v":0.2},
{"x":35,"y":345,"v":0.33},{"x":345,"y":35,"v":0.33},{"x":38,"y":345,"v":0.33},{"x":345,"y":38,"v":0.33},{"x":36,"y":345,"v":0.33},{"x":345,"y":36,"v":0.33},{"x":46,"y":348,"v":0.2},{"x":348,"y":46,"v":0.2},{"x":46,"y":346,"v":0.33},{"x":346,"y":46,"v":0.33},{"x":44,"y":324,"v":0.33},{"x":324,"y":44,"v":0.33},{"x":45,"y":322,"v":0.33},{"x":322,"y":45,"v":0.33},{"x":42,"y":319,"v":0.33},{"x":319,"y":42,"v":0.33},
{"x":87,"y":351,"v":0.33},{"x":351,"y":87,"v":0.33},{"x":91,"y":352,"v":0.33},{"x":352,"y":91,"v":0.33},{"x":91,"y":349,"v":0.33},{"x":349,"y":91,"v":0.33},{"x":103,"y":348,"v":0.33},{"x":348,"y":103,"v":0.33},{"x":108,"y":348,"v":0.08},{"x":348,"y":108,"v":0.08},{"x":108,"y":346,"v":0.2},{"x":346,"y":108,"v":0.2},{"x":111,"y":348,"v":0.2},{"x":348,"y":111,"v":0.2},{"x":112,"y":345,"v":0.33},{"x":345,"y":112,"v":0.33},{"x":115,"y":348,"v":0.33},{"x":348,"y":115,"v":0.33},{"x":116,"y":350,"v":0.33},{"x":350,"y":116,"v":0.33},{"x":119,"y":350,"v":0.33},{"x":350,"y":119,"v":0.33},{"x":110,"y":347,"v":0.33},{"x":347,"y":110,"v":0.33},{"x":113,"y":347,"v":0.33},{"x":347,"y":113,"v":0.33},
{"x":116,"y":380,"v":0.33},{"x":380,"y":116,"v":0.33},{"x":138,"y":358,"v":0.33},{"x":358,"y":138,"v":0.33},{"x":138,"y":354,"v":0.33},{"x":354,"y":138,"v":0.33},{"x":146,"y":369,"v":0.33},{"x":369,"y":146,"v":0.33},{"x":129,"y":383,"v":0.33},{"x":383,"y":129,"v":0.33},{"x":131,"y":386,"v":0.33},{"x":386,"y":131,"v":0.33},{"x":134,"y":387,"v":0.33},{"x":387,"y":134,"v":0.33},{"x":138,"y":389,"v":0.33},{"x":389,"y":138,"v":0.33},{"x":140,"y":389,"v":0.33},{"x":389,"y":140,"v":0.33},{"x":134,"y":383,"v":0.33},{"x":383,"y":134,"v":0.33},{"x":144,"y":386,"v":0.33},{"x":386,"y":144,"v":0.33},{"x":146,"y":386,"v":0.2},{"x":386,"y":146,"v":0.2},{"x":132,"y":384,"v":0.33},{"x":384,"y":132,"v":0.33},{"x":136,"y":388,"v":0.33},{"x":388,"y":136,"v":0.33},
{"x":144,"y":389,"v":0.33},{"x":389,"y":144,"v":0.33},{"x":146,"y":391,"v":0.2},{"x":391,"y":146,"v":0.2},{"x":148,"y":393,"v":0.2},{"x":393,"y":148,"v":0.2},{"x":150,"y":395,"v":0.2},{"x":395,"y":150,"v":0.2},{"x":152,"y":397,"v":0.2},{"x":397,"y":152,"v":0.2},{"x":148,"y":391,"v":0.33},{"x":391,"y":148,"v":0.33},{"x":149,"y":394,"v":0.33},{"x":394,"y":149,"v":0.33},{"x":147,"y":392,"v":0.33},{"x":392,"y":147,"v":0.33},{"x":145,"y":390,"v":0.33},{"x":390,"y":145,"v":0.33},{"x":151,"y":396,"v":0.33},{"x":396,"y":151,"v":0.33},
{"x":129,"y":416,"v":0.33},{"x":416,"y":129,"v":0.33},{"x":131,"y":413,"v":0.33},{"x":413,"y":131,"v":0.33},{"x":144,"y":431,"v":0.33},{"x":431,"y":144,"v":0.33},{"x":147,"y":429,"v":0.2},{"x":429,"y":147,"v":0.2},{"x":143,"y":422,"v":0.33},{"x":422,"y":143,"v":0.33},{"x":145,"y":425,"v":0.2},{"x":425,"y":145,"v":0.2},{"x":147,"y":423,"v":0.33},{"x":423,"y":147,"v":0.33},{"x":143,"y":420,"v":0.33},{"x":420,"y":143,"v":0.33},{"x":146,"y":425,"v":0.33},{"x":425,"y":146,"v":0.33},{"x":147,"y":430,"v":0.33},{"x":430,"y":147,"v":0.33},
{"x":173,"y":428,"v":0.33},{"x":428,"y":173,"v":0.33},{"x":174,"y":426,"v":0.2},{"x":426,"y":174,"v":0.2},{"x":176,"y":424,"v":0.33},{"x":424,"y":176,"v":0.33},{"x":178,"y":423,"v":0.33},{"x":423,"y":178,"v":0.33},{"x":177,"y":414,"v":0.33},{"x":414,"y":177,"v":0.33},{"x":179,"y":414,"v":0.2},{"x":414,"y":179,"v":0.2},{"x":178,"y":410,"v":0.33},{"x":410,"y":178,"v":0.33},{"x":182,"y":407,"v":0.33},{"x":407,"y":182,"v":0.33},{"x":173,"y":427,"v":0.33},{"x":427,"y":173,"v":0.33},{"x":169,"y":394,"v":0.33},{"x":394,"y":169,"v":0.33},{"x":182,"y":398,"v":0.33},{"x":398,"y":182,"v":0.33},{"x":185,"y":398,"v":0.08},{"x":398,"y":185,"v":0.08},{"x":186,"y":398,"v":0.2},{"x":398,"y":186,"v":0.2},{"x":189,"y":398,"v":0.2},{"x":398,"y":189,"v":0.2},{"x":189,"y":399,"v":0.33},{"x":399,"y":189,"v":0.33},{"x":207,"y":399,"v":0.33},{"x":399,"y":207,"v":0.33},{"x":211,"y":400,"v":0.2},{"x":400,"y":211,"v":0.2},{"x":211,"y":397,"v":0.2},{"x":397,"y":211,"v":0.2},{"x":211,"y":399,"v":0.33},{"x":399,"y":211,"v":0.33},{"x":209,"y":400,"v":0.33},{"x":400,"y":209,"v":0.33},{"x":209,"y":373,"v":0.2},{"x":373,"y":209,"v":0.2},{"x":211,"y":373,"v":0.33},{"x":373,"y":211,"v":0.33}
]},"mark":{"type":"circle","opacity":0.9,"strokeWidth":0,"size":320,"clip":false},"encoding":{"color":{"field":"v","type":"quantitative","scale":{"domain":[0,1],"range":["#000000","#ffffff"]},"legend":null},"x":{"field":"x","type":"quantitative","scale":{"domain":[-16.4,451.3],"nice":false,"zero":false},"axis":{"values":[0,100,200,300,400],"grid":false,"domain":false,"ticks":true,"tickSize":11,"tickWidth":3,"tickColor":"black","labelFont":"Liberation Sans","labelFontWeight":"bold","labelFontSize":59,"labelColor":"black","labelPadding":-3,"title":"residue index","titleFont":"Liberation Sans","titleFontWeight":"bold","titleFontSize":60,"titleColor":"black","titlePadding":14}},"y":{"field":"y","type":"quantitative","scale":{"domain":[-16.4,451.3],"nice":false,"zero":false},"axis":{"values":[0,100,200,300,400],"grid":false,"domain":false,"ticks":true,"tickSize":11,"tickWidth":3,"tickColor":"black","labelFont":"Liberation Sans","labelFontWeight":"bold","labelFontSize":59,"labelColor":"black","labelAngle":-90,"labelAlign":"center","labelBaseline":"bottom","labelPadding":23,"title":"residue index","titleFont":"Liberation Sans","titleFontWeight":"bold","titleFontSize":60,"titleColor":"black","titlePadding":14}}}}
